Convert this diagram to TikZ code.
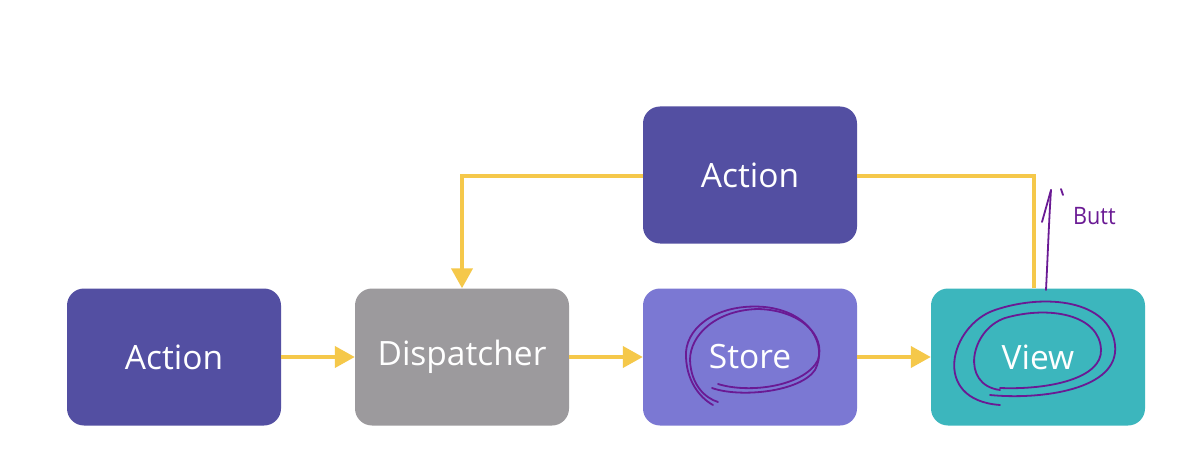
\documentclass[tikz,border=0pt]{standalone}
\usepackage{fontspec}
\setmainfont{Open Sans}
\usetikzlibrary{arrows.meta}
\definecolor{actcol}{HTML}{534FA2}
\definecolor{dispcol}{HTML}{9C9A9D}
\definecolor{storecol}{HTML}{7B78D3}
\definecolor{viewcol}{HTML}{3CB6BD}
\definecolor{arrcol}{HTML}{F5C84A}
\definecolor{inkcol}{HTML}{6A1A94}
\tikzset{
  box/.style={rounded corners=17pt, minimum width=214pt, minimum height=137pt,
    inner sep=0pt, text=white, font=\fontsize{33.5}{38}\selectfont},
  flow/.style={draw=arrcol, line width=4pt, -{Triangle[length=20pt,width=21pt]}},
  flowline/.style={draw=arrcol, line width=4pt},
  ink/.style={draw=inkcol, line width=1.8pt, line cap=round, line join=round},
}
\begin{document}
\begin{tikzpicture}[x=1pt,y=-1pt]
\useasboundingbox (0,0) rectangle (1187,468);
\fill[white] (0,0) rectangle (1187,468);
\node[box, fill=actcol] (act) at (174,357) {Action};
\node[box, fill=dispcol] (disp) at (462,357) {Dispatcher};
\node[box, fill=storecol] (store) at (750,357) {Store};
\node[box, fill=viewcol] (view) at (1038,357) {View};
\node[box, fill=actcol] (act2) at (750,175) {Action};
\draw[flow] (act.east) -- (disp.west);
\draw[flow] (disp.east) -- (store.west);
\draw[flow] (store.east) -- (view.west);
\coordinate (tl) at (462,176);
\coordinate (tr) at (1034,176);
\draw[flow] (act2.west |- tl) -- (tl) -- (disp.north -| tl);
\draw[flowline] (view.north -| tr) -- (tr) -- (act2.east |- tr);
% handwriting
\draw[ink] (712,388) .. controls (740,398) and (800,392) .. (815,370)
  .. controls (828,345) and (810,312) .. (765,307)
  .. controls (720,303) and (688,325) .. (686,352)
  .. controls (685,380) and (700,398) .. (713,405);
\draw[ink] (718,384) .. controls (750,394) and (805,386) .. (818,360)
  .. controls (826,335) and (800,310) .. (758,309)
  .. controls (716,310) and (690,335) .. (690,360)
  .. controls (691,385) and (705,398) .. (718,402);
\draw[ink] (1000,405) .. controls (930,400) and (950,325) .. (995,310)
  .. controls (1045,293) and (1110,300) .. (1115,345)
  .. controls (1120,390) and (1040,400) .. (990,395);
\draw[ink] (1000,390) .. controls (960,385) and (970,330) .. (1005,318)
  .. controls (1050,305) and (1100,315) .. (1101,350)
  .. controls (1102,378) and (1050,390) .. (1000,388);
\coordinate (btop) at (1051,190);
\draw[ink] (1046,290) .. controls (1048,250) and (1049,220) .. (btop);
\draw[ink] (1042,222) -- (btop);
\draw[ink] (1061,189) -- (1063,195);
\node[text=inkcol, font=\fontsize{24}{26}\selectfont, inner sep=0pt, anchor=west, xscale=0.9] (butt) at (1073,216) {Butt};
\end{tikzpicture}
\end{document}
